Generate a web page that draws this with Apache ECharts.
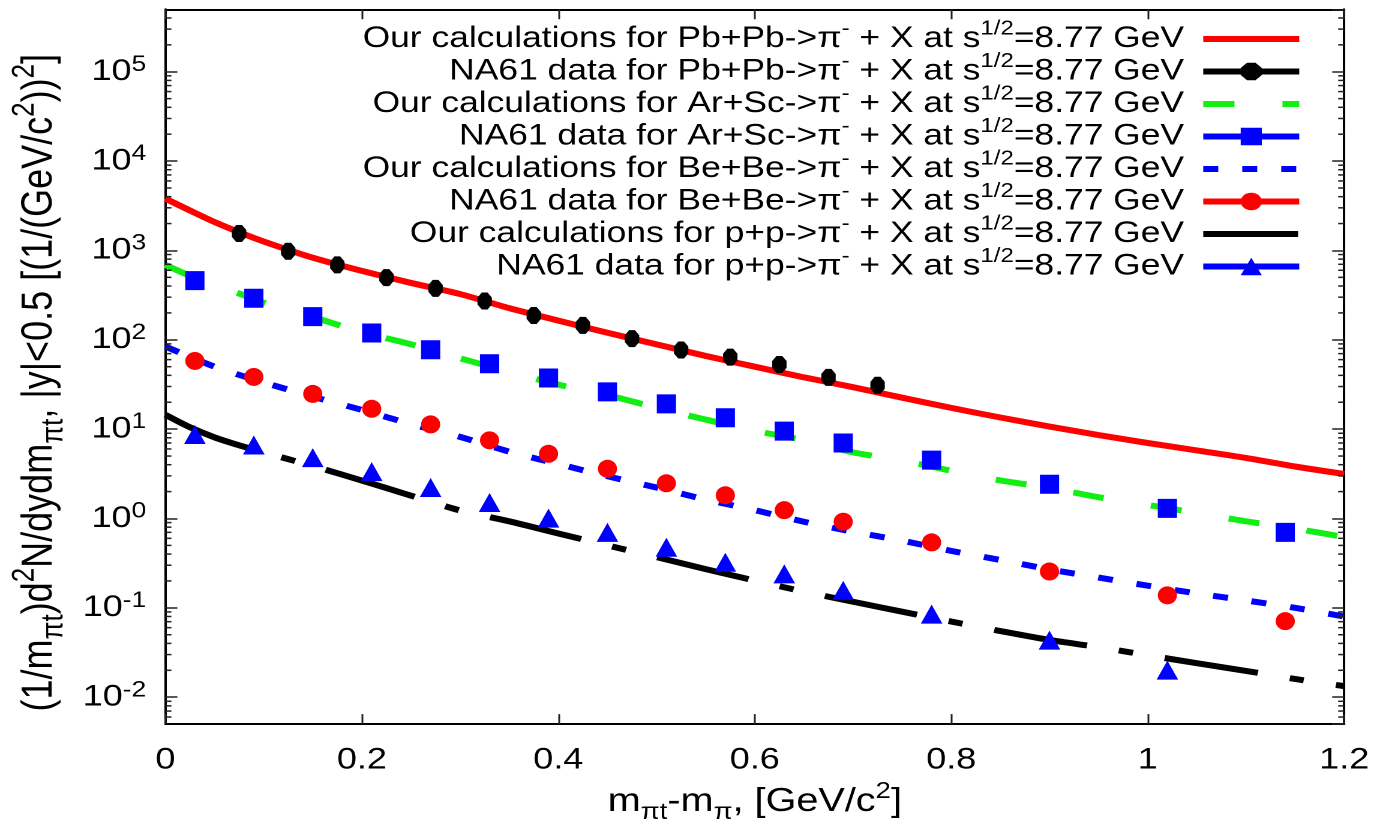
<!DOCTYPE html>
<html>
<head>
<meta charset="utf-8">
<script src="https://cdn.jsdelivr.net/npm/echarts@6/dist/echarts.min.js"></script>
<style>
html, body { margin: 0; padding: 0; background: #fff; overflow: hidden; }
/* the reference is stretched sideways, so the chart is drawn narrow and scaled */
#chart { width: 1144px; height: 829px; transform: scaleX(1.2); transform-origin: 0 0; }
</style>
</head>
<body>
<div id="chart"></div>
<script>
var SX = 1.2;
var FONT = 'Liberation Sans';

// calculation curves, sampled along x
var xCalc = [0, 0.025, 0.05, 0.075, 0.1, 0.15, 0.2, 0.25, 0.3, 0.35, 0.4, 0.45, 0.5, 0.55, 0.6,
    0.65, 0.7, 0.75, 0.8, 0.85, 0.9, 0.95, 1.0, 1.05, 1.1, 1.15, 1.2];
var calcPbPb = [3800, 2800, 2080, 1600, 1260, 829, 590, 433, 325, 226, 164, 120, 89, 66, 50,
    38, 29.5, 22.5, 17.3, 13.5, 10.7, 8.6, 7.0, 5.78, 4.76, 3.82, 3.15];
var calcArSc = [690, 520, 410, 330, 260, 180, 122, 89, 62, 44, 31.5, 24, 17.4, 12.8, 9.6,
    7.5, 5.5, 4.45, 3.42, 2.67, 2.2, 1.73, 1.42, 1.15, 0.93, 0.77, 0.62];
var calcBeBe = [84, 64.5, 50, 40.5, 33.3, 23.1, 16.4, 11.4, 8.2, 5.6, 4.07, 2.97, 2.22, 1.63, 1.24,
    0.92, 0.71, 0.565, 0.434, 0.343, 0.27, 0.218, 0.177, 0.145, 0.121, 0.10, 0.080];
var calcPP = [14.5, 10.5, 8.1, 6.6, 5.5, 3.87, 2.66, 1.8, 1.23, 0.93, 0.68, 0.50, 0.37, 0.271, 0.202,
    0.152, 0.117, 0.0906, 0.0703, 0.055, 0.0437, 0.0363, 0.0295, 0.024, 0.0197, 0.016, 0.0133];

// NA61 data
var xPb = [0.075, 0.125, 0.175, 0.225, 0.275, 0.325, 0.375, 0.425, 0.475, 0.525, 0.575, 0.625, 0.675, 0.725];
var dataPbPb = [1550, 980, 690, 497, 376, 272, 187, 145, 103, 77, 64, 53, 38, 31];
var xData = [0.03, 0.09, 0.15, 0.21, 0.27, 0.33, 0.39, 0.45, 0.51, 0.57, 0.63, 0.69, 0.78, 0.90, 1.02, 1.14];
var dataArSc = [459, 292, 182, 119, 77.5, 54, 37.4, 26.1, 19.2, 13.4, 9.5, 7.0, 4.5, 2.42, 1.30, 0.70];
var dataBeBe = [58, 38.4, 24.8, 16.9, 11.3, 7.5, 5.3, 3.6, 2.48, 1.82, 1.24, 0.92, 0.54, 0.255, 0.138, 0.071];
var dataPP = [8.7, 6.65, 4.8, 3.35, 2.22, 1.51, 1.01, 0.70, 0.476, 0.324, 0.24, 0.157, 0.085, 0.0435, 0.0201];

// axes
var xMin = 0, xMax = 1.2, xStep = 0.2;
var yMin = 0.005, yMax = 500000;
var minorMult = [2, 3, 4, 5, 6, 7, 8, 9];
var decades = [-3, -2, -1, 0, 1, 2, 3, 4, 5];

// legend
var legendNames = [
    'Our calculations for Pb+Pb', 'NA61 data for Pb+Pb',
    'Our calculations for Ar+Sc', 'NA61 data for Ar+Sc',
    'Our calculations for Be+Be', 'NA61 data for Be+Be',
    'Our calculations for p+p', 'NA61 data for p+p'
];
var legendRowY = [39, 71.5, 104, 136.5, 169, 201.5, 234, 266.5];

function pairs(xs, ys) {
    return ys.map(function (y, i) { return [xs[i], y]; });
}

var minorTicks = [];
decades.forEach(function (d) {
    minorMult.forEach(function (m) {
        var v = m * Math.pow(10, d);
        if (v > yMin && v < yMax) minorTicks.push([xMin, v]);
    });
});

var chart = echarts.init(document.getElementById('chart'), null, {renderer: 'canvas', devicePixelRatio: 2});

var lineSeries = function (name, xs, ys, color, dash) {
    return {
        name: name, type: 'line', data: pairs(xs, ys), symbol: 'none', smooth: 0.3,
        lineStyle: {color: color, width: 6, type: dash}, itemStyle: {color: color},
        z: 3, silent: true
    };
};
var dataSeries = function (name, xs, ys, color, symbol, size) {
    return {
        name: name, type: 'line', data: pairs(xs, ys), symbol: symbol, symbolSize: size,
        lineStyle: {width: 0, opacity: 0}, itemStyle: {color: color, opacity: 1},
        z: 4, silent: true
    };
};

var series = [
    lineSeries(legendNames[0], xCalc, calcPbPb, '#ff0000', 'solid'),
    dataSeries(legendNames[1], xPb, dataPbPb, '#000000', 'path://M3,0 H7 L10,3 V7 L7,10 H3 L0,7 V3 Z', [12, 17]),
    lineSeries(legendNames[2], xCalc, calcArSc, '#11ee11', [26, 40]),
    dataSeries(legendNames[3], xData, dataArSc, '#0000ff', 'rect', [16, 19]),
    lineSeries(legendNames[4], xCalc, calcBeBe, '#0000ff', [12.5, 20]),
    dataSeries(legendNames[5], xData, dataBeBe, '#ff0000', 'circle', [16, 18]),
    lineSeries(legendNames[6], xCalc, calcPP, '#000000', [79, 27, 12, 27]),
    dataSeries(legendNames[7], xData.slice(0, dataPP.length), dataPP, '#0000ff', 'triangle', [18, 19]),
    {
        type: 'custom', data: minorTicks, silent: true, z: 5, clip: false,
        renderItem: function (params, api) {
            var v = api.value(1);
            var pl = api.coord([xMin, v]);
            var pr = api.coord([xMax, v]);
            var st = {stroke: '#222', lineWidth: 1.5};
            return {type: 'group', children: [
                {type: 'line', shape: {x1: pl[0], y1: pl[1], x2: pl[0] + 5, y2: pl[1]}, style: st},
                {type: 'line', shape: {x1: pr[0], y1: pr[1], x2: pr[0] - 5, y2: pr[1]}, style: st}
            ]};
        }
    }
];
var legendDash = ['solid', 'solid', [26, 40], 'solid', [12.5, 20], 'solid', [79, 27, 12, 27], 'solid'];

var legendText = {
    fontFamily: FONT, fontSize: 29.5, color: '#000', padding: [0, 11, 0, 0],
    rich: {sup: {fontFamily: FONT, fontSize: 20, verticalAlign: 'top', lineHeight: 40, color: '#000'}}
};
var legends = legendNames.map(function (name, i) {
    var lg = {
        data: [name], right: 58.3, top: legendRowY[i] - 20, padding: 0,
        orient: 'horizontal', align: 'right', itemWidth: 80, itemHeight: 22,
        selectedMode: false, textStyle: legendText,
        lineStyle: {width: 6, opacity: 1, type: legendDash[i]},
        formatter: function (n) { return n + '->π{sup|-} + X at s{sup|1/2}=8.77 GeV'; }
    };
    // calculation rows show only the line sample
    if (i % 2 === 0) lg.itemStyle = {opacity: 0};
    return lg;
});

var frameLine = {show: true, onZero: false, lineStyle: {color: '#000', width: 2}};
var tickIn = {show: true, inside: true, length: 10, lineStyle: {color: '#222', width: 1.5}};

var option = {
    animation: false,
    backgroundColor: '#fff',
    grid: {left: 157.5 / SX, right: 27.5 / SX, top: 9.3, bottom: 102, containLabel: false},
    legend: legends,
    xAxis: [{
        type: 'value', min: xMin, max: xMax, interval: xStep, position: 'bottom',
        axisLine: frameLine, axisTick: tickIn, splitLine: {show: false},
        axisLabel: {fontFamily: FONT, fontSize: 30, color: '#000', margin: 21},
        name: 'm{sub|πt}-m{sub|π}, [GeV/c{sup|2}]', nameLocation: 'middle', nameGap: 50,
        nameTextStyle: {
            fontFamily: FONT, fontSize: 33, color: '#000',
            rich: {
                sub: {fontFamily: FONT, fontSize: 23, verticalAlign: 'bottom', lineHeight: 44, color: '#000'},
                sup: {fontFamily: FONT, fontSize: 23, verticalAlign: 'top', lineHeight: 44, color: '#000'}
            }
        }
    }, {
        type: 'value', min: xMin, max: xMax, interval: xStep, position: 'top',
        axisLine: frameLine, axisTick: tickIn, axisLabel: {show: false}, splitLine: {show: false}
    }],
    yAxis: [{
        type: 'log', logBase: 10, min: yMin, max: yMax, splitNumber: 8, position: 'left',
        axisLine: frameLine, axisTick: tickIn, splitLine: {show: false},
        axisLabel: {
            fontFamily: FONT, fontSize: 30, color: '#000', margin: 16,
            showMinLabel: false, showMaxLabel: false,
            formatter: function (v) {
                var e = Math.round(Math.log10(v));
                if (Math.abs(Math.log10(v) - e) > 1e-6) return '';
                return '10{sup|' + e + '}';
            },
            rich: {sup: {fontFamily: FONT, fontSize: 22, verticalAlign: 'top', lineHeight: 36, color: '#000'}}
        },
        name: '(1/m{sub|πt})d{sup|2}N/dydm{sub|πt}, |y|<0.5 [(1/(GeV/c{sup|2})){sup|2}]',
        nameLocation: 'middle', nameRotate: 90, nameGap: 74,
        nameTextStyle: {
            fontFamily: FONT, fontSize: 36, color: '#000', padding: [0, 32, 0, 0],
            rich: {
                sub: {fontFamily: FONT, fontSize: 26, verticalAlign: 'bottom', lineHeight: 50, color: '#000'},
                sup: {fontFamily: FONT, fontSize: 26, verticalAlign: 'top', lineHeight: 50, color: '#000'}
            }
        }
    }, {
        type: 'log', logBase: 10, min: yMin, max: yMax, splitNumber: 8, position: 'right',
        axisLine: frameLine, axisTick: tickIn, axisLabel: {show: false}, splitLine: {show: false}
    }],
    series: series
};
chart.setOption(option);
</script>
</body>
</html>
